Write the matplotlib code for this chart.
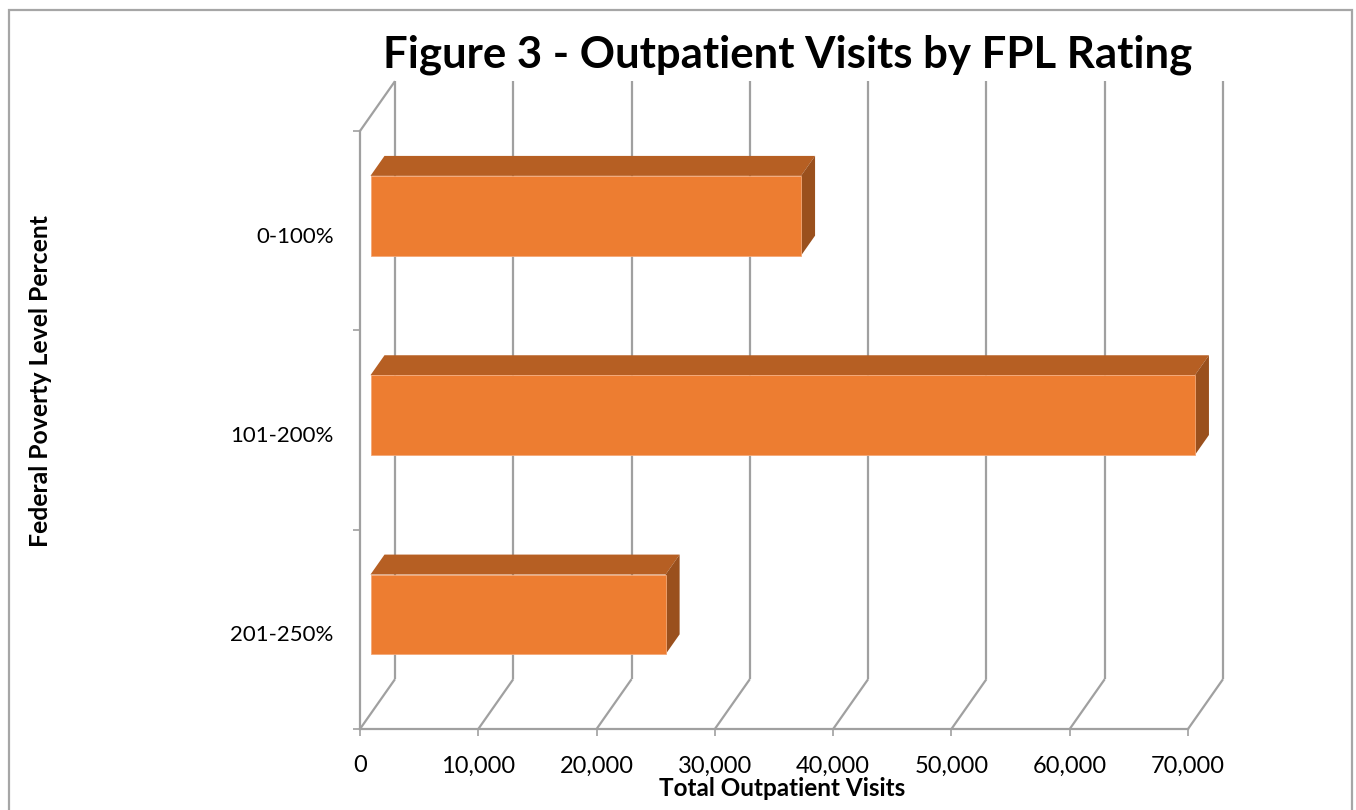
import matplotlib
matplotlib.use("Agg")
import matplotlib.pyplot as plt
from matplotlib.patches import Polygon, Rectangle
from matplotlib.lines import Line2D

# ---- data ----
categories = ["201-250%", "101-200%", "0-100%"]   # bottom to top
visits = [24950, 69700, 36400]
xticks = [0, 10000, 20000, 30000, 40000, 50000, 60000, 70000]
xtick_labels = ["0", "10,000", "20,000", "30,000", "40,000", "50,000", "60,000", "70,000"]
title = "Figure 3 - Outpatient Visits by FPL Rating"
xlabel = "Total Outpatient Visits"
ylabel = "Federal Poverty Level Percent"

# ---- style ----
FONT = ["Lato", "DejaVu Sans"]
plt.rcParams["font.family"] = FONT
FRONT = "#ED7D31"
TOP = "#B65F23"
SIDE = "#9A501D"
GRID = "#A0A0A0"

W, H = 1356, 810
fig = plt.figure(figsize=(W / 100, H / 100), dpi=100)
ax = fig.add_axes([360 / W, (H - 729) / H, 828 / W, 598 / H])
ax.set_xlim(0, 70000)
ax.set_ylim(0, 3)

# wall depth (3D projection offset) in data units
DDX = 35 / 828 * 70000
DDY = 0.25
f0, fd = 0.3, 0.4  # bar depth start and bar depth fraction
bar_h = 0.4

lkw = dict(color=GRID, lw=1.6, clip_on=False, zorder=1, solid_capstyle="butt")
# back wall verticals and floor diagonals
for xv in xticks:
    ax.add_line(Line2D([xv + DDX, xv + DDX], [DDY, 3 + DDY], **lkw))
    ax.add_line(Line2D([xv, xv + DDX], [0, DDY], **lkw))
# left wall top diagonal
ax.add_line(Line2D([0, DDX], [3, 3 + DDY], **lkw))

# bars
for i, v in enumerate(visits):
    y0 = i + 0.5 - bar_h / 2 + f0 * DDY
    x0 = f0 * DDX
    bars = ax.barh(y0 + bar_h / 2, v, left=x0, height=bar_h, color=FRONT,
                   edgecolor="#F4A877", linewidth=0.6, zorder=3)
    for b in bars:
        b.set_clip_on(False)
    dx, dy = fd * DDX, fd * DDY
    top = Polygon([(x0, y0 + bar_h), (x0 + dx, y0 + bar_h + dy),
                   (x0 + v + dx, y0 + bar_h + dy), (x0 + v, y0 + bar_h)],
                  closed=True, facecolor=TOP, edgecolor="none", zorder=2,
                  clip_on=False)
    side = Polygon([(x0 + v, y0), (x0 + v, y0 + bar_h),
                    (x0 + v + dx, y0 + bar_h + dy), (x0 + v + dx, y0 + dy)],
                   closed=True, facecolor=SIDE, edgecolor="none", zorder=2,
                   clip_on=False)
    ax.add_patch(top)
    ax.add_patch(side)

# spines
for s in ["top", "right"]:
    ax.spines[s].set_visible(False)
for s in ["bottom", "left"]:
    ax.spines[s].set_color(GRID)
    ax.spines[s].set_linewidth(1.6)
ax.patch.set_visible(False)

ax.set_xticks(xticks)
ax.set_xticklabels(xtick_labels, fontsize=17)
ax.tick_params(axis="x", length=5, width=1.2, color=GRID, pad=14)

ax.set_yticks([0, 1, 2, 3])
ax.set_yticklabels([])
ax.set_yticks([0.48, 1.48, 2.48], minor=True)
ax.set_yticklabels(categories, minor=True, fontsize=16)
ax.tick_params(axis="y", which="major", length=5, width=1.2, color=GRID)
ax.tick_params(axis="y", which="minor", length=0, pad=19)

fig.text(788 / W, 1 - 55 / H, title, ha="center", va="center",
         fontsize=31.5, fontweight="bold")
fig.text(782 / W, 1 - 789 / H, xlabel, ha="center", va="center",
         fontsize=17.5, fontweight="bold")
fig.text(41 / W, 1 - 381 / H, ylabel, ha="center", va="center",
         fontsize=17.8, fontweight="bold", rotation=90)

# outer frame
fig.add_artist(Rectangle((8.5 / W, -0.05), (1352 - 8.5) / W, 1.05 - 9.5 / H,
                         transform=fig.transFigure, fill=False,
                         edgecolor="#A6A6A6", linewidth=1.6))

fig.savefig("out.png", dpi=100)
